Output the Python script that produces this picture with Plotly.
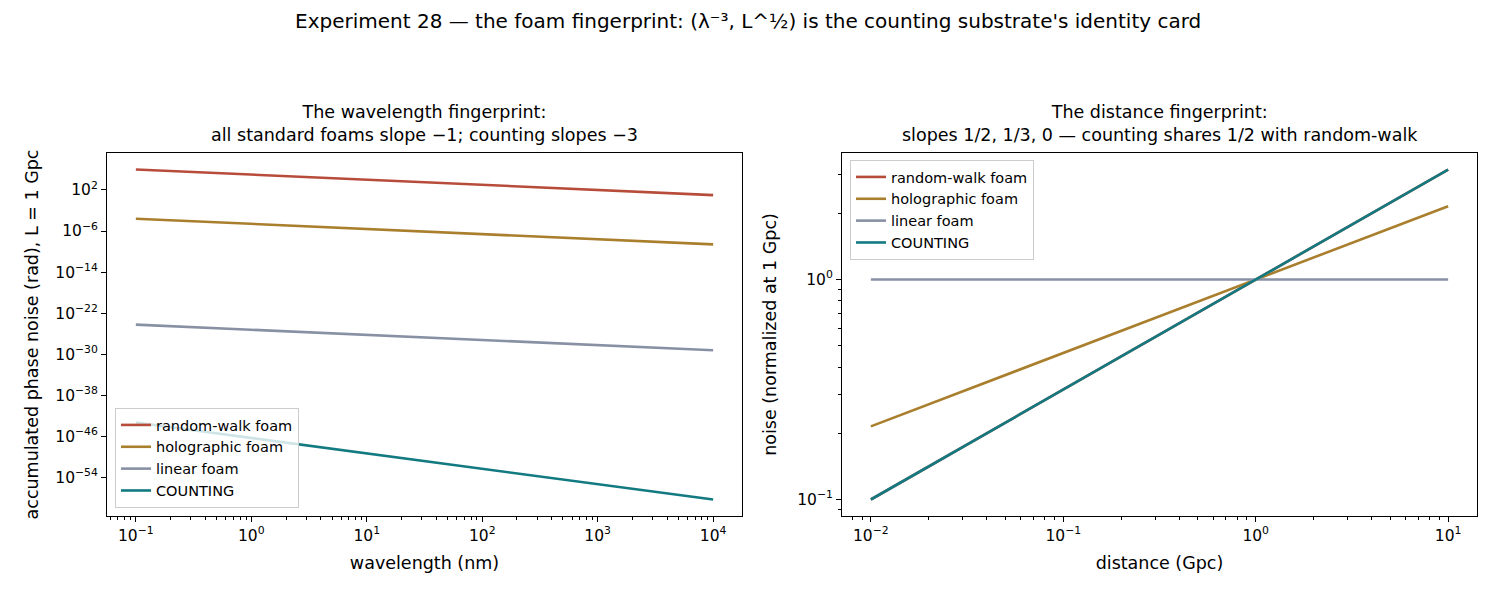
import plotly.graph_objects as go

# ---------------- data ----------------
wavelength_nm = [0.1, 1, 10, 100, 1000, 10000]
wl_random_walk = [1e6, 1e5, 1e4, 1e3, 1e2, 1e1]
wl_holographic = [2.5e-4, 2.5e-5, 2.5e-6, 2.5e-7, 2.5e-8, 2.5e-9]
wl_linear = [6e-25, 6e-26, 6e-27, 6e-28, 6e-29, 6e-30]
wl_counting = [5e-44, 5e-47, 5e-50, 5e-53, 5e-56, 5e-59]

distance_gpc = [0.01, 0.1, 1, 10]
d_random_walk = [0.1, 0.316, 1, 3.16]
d_holographic = [0.215, 0.464, 1, 2.154]
d_linear = [1, 1, 1, 1]
d_counting = [0.1, 0.316, 1, 3.16]

series_names = ["random-walk foam", "holographic foam", "linear foam", "COUNTING"]
colors = ["#b84c3a", "#a97f2e", "#8891a4", "#127a80"]

left_x_ticks = [-1, 0, 1, 2, 3, 4]
left_y_ticks = [2, -6, -14, -22, -30, -38, -46, -54]
right_x_ticks = [-2, -1, 0, 1]
right_y_ticks = [-1, 0]

MINUS = "\u2212"


def pow_label(e):
    s = str(e).replace("-", MINUS)
    return f"10<sup>{s}</sup>"


def minors(lo, hi):
    out = []
    for e in range(lo, hi + 1):
        for m in range(2, 10):
            out.append(m * 10 ** e)
    return out


FONT = "DejaVu Sans"
W, H = 1495, 598
TICK_FS = 15.5
LABEL_FS = 17.5
TITLE_FS = 17.5
SUP_FS = 20
LEG_FS = 14.5

fig = go.Figure()

left_sets = [wl_random_walk, wl_holographic, wl_linear, wl_counting]
right_sets = [d_random_walk, d_holographic, d_linear, d_counting]

for name, c, ys in zip(series_names, colors, left_sets):
    fig.add_trace(go.Scatter(x=wavelength_nm, y=ys, mode="lines", name=name,
                             line=dict(color=c, width=2.6), xaxis="x", yaxis="y",
                             legend="legend"))
for name, c, ys in zip(series_names, colors, right_sets):
    fig.add_trace(go.Scatter(x=distance_gpc, y=ys, mode="lines", name=name,
                             line=dict(color=c, width=2.6), xaxis="x2", yaxis="y2",
                             legend="legend2"))

# plot area pixels
L = (107, 742)
R = (842, 1477)
T, B = 153, 516


def px(x):
    return x / W


def py(y):
    return 1 - y / H


axis_common = dict(type="log", showline=True, linecolor="black", linewidth=1,
                   mirror=True, ticks="outside", ticklen=5, tickwidth=1,
                   tickcolor="black", showgrid=False, zeroline=False,
                   tickfont=dict(family=FONT, size=TICK_FS, color="black"))

fig.update_layout(
    width=W, height=H, margin=dict(l=0, r=0, t=0, b=0),
    paper_bgcolor="white", plot_bgcolor="white",
    font=dict(family=FONT, color="black"),
    xaxis=dict(**axis_common, domain=[px(L[0]), px(L[1])], range=[-1.25, 4.25],
               tickvals=[10 ** e for e in left_x_ticks],
               ticktext=[pow_label(e) for e in left_x_ticks],
               minor=dict(tickvals=[0.06, 0.07, 0.08, 0.09] + minors(-1, 3),
                          ticks="outside", ticklen=3, tickcolor="black"),
               title=dict(text="wavelength (nm)", font=dict(size=LABEL_FS, family=FONT), standoff=13),
               anchor="y"),
    yaxis=dict(**axis_common, domain=[py(B), py(T)], range=[-61.5, 9.2],
               tickvals=[10.0 ** e for e in left_y_ticks],
               ticktext=[pow_label(e) for e in left_y_ticks],
               title=dict(text="accumulated phase noise (rad), L = 1 Gpc",
                          font=dict(size=LABEL_FS, family=FONT), standoff=12),
               anchor="x"),
    xaxis2=dict(**axis_common, domain=[px(R[0]), px(R[1])], range=[-2.15, 1.15],
                tickvals=[10.0 ** e for e in right_x_ticks],
                ticktext=[pow_label(e) for e in right_x_ticks],
                minor=dict(tickvals=[0.008, 0.009] + minors(-2, 0),
                           ticks="outside", ticklen=3, tickcolor="black"),
                title=dict(text="distance (Gpc)", font=dict(size=LABEL_FS, family=FONT), standoff=13),
                anchor="y2"),
    yaxis2=dict(**axis_common, domain=[py(B), py(T)], range=[-1.075, 0.575],
                tickvals=[10.0 ** e for e in right_y_ticks],
                ticktext=[pow_label(e) for e in right_y_ticks],
                minor=dict(tickvals=[0.09] + minors(-1, -1) + [2, 3],
                           ticks="outside", ticklen=3, tickcolor="black"),
                title=dict(text="noise (normalized at 1 Gpc)",
                           font=dict(size=LABEL_FS, family=FONT), standoff=16),
                anchor="x2"),
    legend=dict(x=px(L[0] + 8), y=py(B - 8), xanchor="left", yanchor="bottom",
                bgcolor="rgba(255,255,255,0.8)", bordercolor="#cccccc", borderwidth=1,
                font=dict(family=FONT, size=LEG_FS), tracegroupgap=0, itemwidth=30),
    legend2=dict(x=px(R[0] + 8), y=py(T + 7), xanchor="left", yanchor="top",
                 bgcolor="rgba(255,255,255,0.8)", bordercolor="#cccccc", borderwidth=1,
                 font=dict(family=FONT, size=LEG_FS), tracegroupgap=0, itemwidth=30),
    showlegend=True,
)

annotations = [
    dict(text="Experiment 28 \u2014 the foam fingerprint: (\u03bb\u207b\u00b3, L^\u00bd) is the counting substrate's identity card",
         x=0.5, y=py(21), xref="paper", yref="paper", xanchor="center", yanchor="middle",
         showarrow=False, font=dict(family=FONT, size=SUP_FS)),
    dict(text="The wavelength fingerprint:<br>all standard foams slope \u22121; counting slopes \u22123",
         x=px((L[0] + L[1]) / 2), y=py(T - 6), xref="paper", yref="paper",
         xanchor="center", yanchor="bottom", showarrow=False,
         font=dict(family=FONT, size=TITLE_FS)),
    dict(text="The distance fingerprint:<br>slopes 1/2, 1/3, 0 \u2014 counting shares 1/2 with random-walk",
         x=px((R[0] + R[1]) / 2), y=py(T - 6), xref="paper", yref="paper",
         xanchor="center", yanchor="bottom", showarrow=False,
         font=dict(family=FONT, size=TITLE_FS)),
]
fig.update_layout(annotations=annotations)

fig.write_html("out.html")
